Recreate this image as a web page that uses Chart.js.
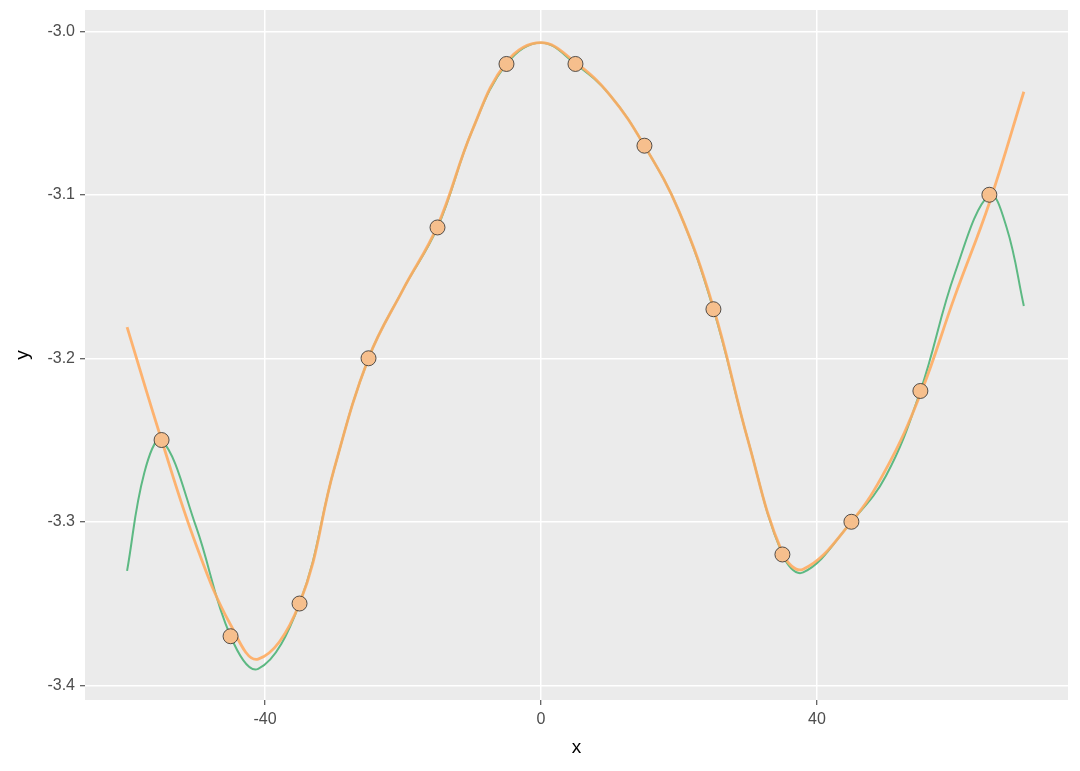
<!DOCTYPE html>
<html lang="en">
<head>
  <meta charset="UTF-8">
  <title>Fit</title>
  <style>
    html, body { margin: 0; padding: 0; background: #fff; }
  </style>
</head>
<body>
  <canvas id="chart" width="1080" height="771"></canvas>
  <script src="https://cdn.jsdelivr.net/npm/chart.js"></script>
  <script>
    // observed points
    const pointX = [-55, -45, -35, -25, -15, -5, 5, 15, 25, 35, 45, 55, 65];
    const pointY = [-3.25, -3.37, -3.35, -3.20, -3.12, -3.02, -3.02, -3.07, -3.17, -3.32, -3.30, -3.22, -3.10];

    // green curve (interpolating spline)
    const greenX = [-60, -57.5, -55, -50, -45, -41, -35, -30, -25, -20, -15, -10, -5, 0, 5, 10, 15, 20, 25, 30, 35, 38, 45, 50, 55, 60, 65, 67.5, 70];
    const greenY = [-3.33, -3.27, -3.25, -3.303, -3.37, -3.39, -3.35, -3.268, -3.20, -3.158, -3.12, -3.061, -3.02, -3.007, -3.02, -3.039, -3.07, -3.11, -3.17, -3.25, -3.32, -3.331, -3.30, -3.272, -3.22, -3.148, -3.10, -3.12, -3.168];

    // orange curve (smooth fit)
    const orangeX = [-60, -55, -50, -45, -41, -35, -30, -25, -20, -15, -10, -5, 0, 5, 10, 15, 20, 25, 30, 35, 38, 45, 50, 55, 60, 65, 70];
    const orangeY = [-3.181, -3.25, -3.314, -3.363, -3.384, -3.35, -3.268, -3.20, -3.158, -3.119, -3.061, -3.019, -3.007, -3.019, -3.039, -3.07, -3.11, -3.169, -3.25, -3.319, -3.329, -3.30, -3.268, -3.222, -3.162, -3.105, -3.037];

    const xTicks = [-40, 0, 40];
    const yTicks = [-3.4, -3.3, -3.2, -3.1, -3.0];

    const toXY = (xs, ys) => xs.map((x, i) => ({ x: x, y: ys[i] }));

    const panelBg = {
      id: 'panelBg',
      beforeDraw(chart) {
        const a = chart.chartArea;
        const c = chart.ctx;
        c.save();
        c.fillStyle = '#ebebeb';
        c.fillRect(a.left, a.top, a.right - a.left, a.bottom - a.top);
        c.restore();
      }
    };

    const ctx = document.getElementById('chart').getContext('2d');
    new Chart(ctx, {
      type: 'scatter',
      data: {
        datasets: [
          {
            label: 'spline',
            type: 'line',
            order: 3,
            data: toXY(greenX, greenY),
            borderColor: '#5db983',
            borderWidth: 2,
            pointRadius: 0,
            tension: 0.4,
            fill: false
          },
          {
            label: 'fit',
            type: 'line',
            order: 2,
            data: toXY(orangeX, orangeY),
            borderColor: 'rgba(255, 172, 98, 0.9)',
            borderWidth: 2.8,
            pointRadius: 0,
            tension: 0.4,
            fill: false
          },
          {
            label: 'points',
            order: 1,
            data: toXY(pointX, pointY),
            backgroundColor: '#f6bf8d',
            borderColor: '#2b2b2b',
            borderWidth: 0.8,
            pointRadius: 7.5
          }
        ]
      },
      options: {
        responsive: false,
        animation: false,
        layout: { padding: { top: 10, right: 12, left: 0, bottom: 0 } },
        plugins: { legend: { display: false }, tooltip: { enabled: false } },
        scales: {
          x: {
            type: 'linear',
            min: -66.1,
            max: 76.4,
            afterBuildTicks: s => { s.ticks = xTicks.map(v => ({ value: v })); },
            afterFit: s => { s.height = 71; s.paddingLeft = 0; s.paddingRight = 0; },
            grid: { color: '#ffffff', lineWidth: 1.5, drawTicks: true, tickLength: 5, tickColor: '#333333', tickWidth: 1 },
            border: { display: false },
            ticks: { color: '#4d4d4d', font: { family: 'Liberation Sans', size: 16 }, padding: 5 },
            title: { display: true, text: 'x', color: '#000', font: { family: 'Liberation Sans', size: 19 }, padding: { top: 0, bottom: 12 } }
          },
          y: {
            type: 'linear',
            min: -3.409,
            max: -2.987,
            afterBuildTicks: s => { s.ticks = yTicks.map(v => ({ value: v })); },
            afterFit: s => { s.width = 85; s.paddingTop = 0; s.paddingBottom = 0; },
            grid: { color: '#ffffff', lineWidth: 1.5, drawTicks: true, tickLength: 5, tickColor: '#333333', tickWidth: 1 },
            border: { display: false },
            ticks: { color: '#4d4d4d', font: { family: 'Liberation Sans', size: 16 }, padding: 5, callback: v => v.toFixed(1) },
            title: { display: true, text: 'y', color: '#000', font: { family: 'Liberation Sans', size: 19 }, padding: { top: 11, bottom: 0 } }
          }
        }
      },
      plugins: [panelBg]
    });
  </script>
</body>
</html>
